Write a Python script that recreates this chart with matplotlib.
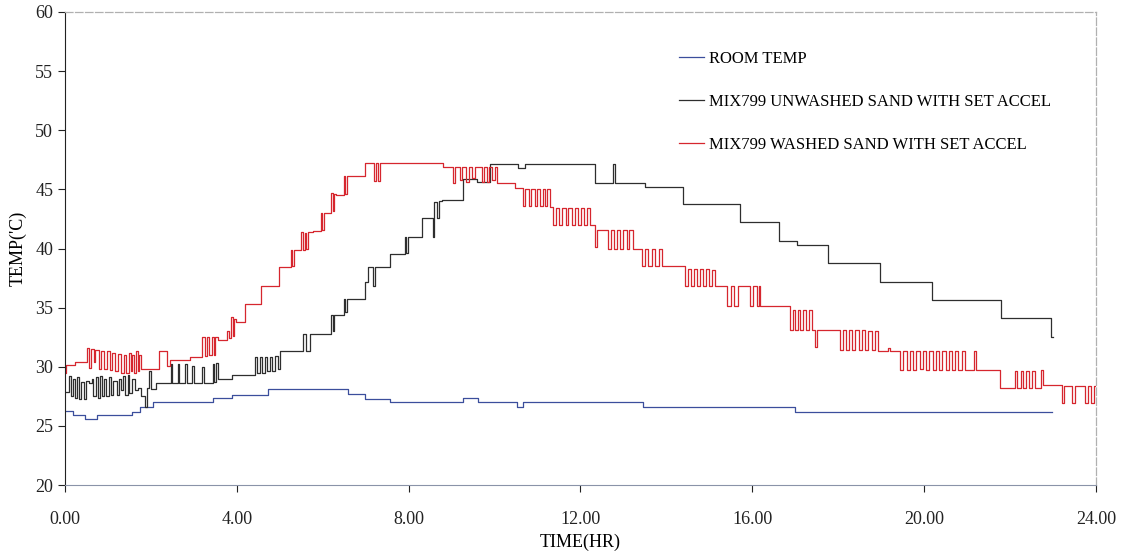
import matplotlib
matplotlib.use("Agg")
import matplotlib.pyplot as plt
from matplotlib.ticker import FormatStrFormatter

plt.rcParams['font.family'] = ['Liberation Serif', 'DejaVu Serif']

# ---- data (time in hours, temperature in C) ----
room_t = [0.00, 0.19, 0.47, 0.74, 1.56, 1.75, 2.05, 3.45, 3.89, 4.73, 6.59, 6.98,
          7.57, 9.26, 9.61, 10.52, 10.66, 13.45, 16.99, 22.97]
room_T = [26.3, 25.9, 25.55, 25.9, 26.2, 26.6, 27.05, 27.4, 27.65, 28.1, 27.7, 27.3,
          27.0, 27.35, 27.0, 26.6, 27.0, 26.6, 26.2, 26.2]

unw_t = [0.00, 0.10, 0.14, 0.18, 0.23, 0.27, 0.32, 0.37, 0.45, 0.50, 0.56, 0.62,
         0.66, 0.72, 0.76, 0.82, 0.86, 0.92, 0.96, 1.02, 1.06, 1.12, 1.20, 1.26,
         1.30, 1.36, 1.40, 1.46, 1.50, 1.56, 1.62, 1.70, 1.78, 1.86, 1.92, 1.96,
         2.00, 2.12, 2.46, 2.50, 2.62, 2.66, 2.80, 2.84, 2.96, 3.00, 3.18, 3.24,
         3.44, 3.48, 3.52, 3.56, 3.89, 4.42, 4.46, 4.55, 4.59, 4.66, 4.70, 4.78,
         4.82, 4.90, 4.95, 5.00, 5.54, 5.60, 5.70, 6.20, 6.23, 6.26, 6.50, 6.53,
         6.56, 6.98, 7.05, 7.18, 7.22, 7.30, 7.57, 7.91, 7.95, 7.98, 8.30, 8.57,
         8.60, 8.65, 8.70, 8.77, 9.26, 9.60, 9.90, 10.55, 10.70, 12.34, 12.76,
         12.80, 13.50, 14.39, 15.71, 16.62, 17.04, 17.76, 18.97, 20.18, 21.79,
         22.95, 23.00]
unw_T = [27.9, 29.2, 27.5, 29.0, 27.4, 29.1, 27.3, 28.7, 27.3, 28.8, 28.6, 29.0,
         27.5, 29.1, 27.4, 29.2, 27.5, 29.0, 27.5, 29.1, 27.6, 28.8, 27.6, 29.0,
         28.0, 29.2, 27.6, 29.3, 27.8, 29.0, 28.0, 28.2, 27.5, 26.6, 28.2, 29.6,
         28.1, 28.6, 30.2, 28.6, 30.2, 28.6, 30.2, 28.6, 30.1, 28.6, 30.0, 28.6,
         30.2, 28.7, 30.3, 28.95, 29.3, 30.8, 29.5, 30.8, 29.5, 30.8, 29.6, 30.8,
         29.6, 30.9, 29.8, 31.3, 32.8, 31.3, 32.8, 34.4, 33.0, 34.4, 35.7, 34.6,
         35.7, 37.2, 38.4, 36.8, 38.4, 38.4, 39.5, 41.0, 39.6, 41.0, 42.55, 41.0,
         43.9, 42.6, 44.0, 44.1, 45.9, 45.6, 47.15, 46.8, 47.15, 45.57, 47.15,
         45.57, 45.23, 43.76, 42.2, 40.66, 40.3, 38.75, 37.2, 35.65, 34.1,
         32.5, 32.5]

was_t = [0.00, 0.03, 0.23, 0.52, 0.57, 0.60, 0.67, 0.71, 0.79, 0.83, 0.90, 0.97,
         1.04, 1.10, 1.16, 1.24, 1.30, 1.37, 1.42, 1.49, 1.53, 1.57, 1.61, 1.65,
         1.69, 1.73, 1.78, 2.18, 2.37, 2.45, 2.92, 3.20, 3.25, 3.30, 3.36, 3.42,
         3.47, 3.50, 3.56, 3.78, 3.82, 3.86, 3.90, 3.94, 3.98, 4.20, 4.57, 4.99,
         5.26, 5.29, 5.33, 5.50, 5.54, 5.58, 5.62, 5.66, 5.77, 5.96, 5.99, 6.02,
         6.20, 6.23, 6.26, 6.30, 6.50, 6.53, 6.56, 6.98, 7.20, 7.25, 7.29, 7.34,
         8.80, 9.03, 9.08, 9.20, 9.25, 9.33, 9.40, 9.48, 9.55, 9.70, 9.75, 9.82,
         9.88, 9.95, 10.00, 10.06, 10.47, 10.66, 10.72, 10.80, 10.86, 10.93,
         10.98, 11.05, 11.12, 11.18, 11.23, 11.29, 11.36, 11.42, 11.50, 11.58,
         11.66, 11.72, 11.80, 11.88, 11.95, 12.02, 12.08, 12.15, 12.22, 12.34,
         12.38, 12.64, 12.70, 12.77, 12.85, 12.92, 13.00, 13.08, 13.14, 13.22,
         13.43, 13.50, 13.58, 13.66, 13.74, 13.82, 13.90, 13.95, 14.43, 14.50,
         14.57, 14.64, 14.71, 14.78, 14.85, 14.92, 15.00, 15.06, 15.13, 15.41,
         15.50, 15.58, 15.66, 15.95, 16.02, 16.10, 16.15, 16.18, 16.88, 16.94,
         17.00, 17.06, 17.12, 17.18, 17.25, 17.32, 17.38, 17.45, 17.50, 18.04,
         18.10, 18.18, 18.25, 18.32, 18.40, 18.48, 18.55, 18.62, 18.70, 18.78,
         18.85, 18.92, 19.15, 19.20, 19.44, 19.50, 19.60, 19.66, 19.75, 19.82,
         19.90, 19.98, 20.05, 20.12, 20.20, 20.28, 20.35, 20.42, 20.50, 20.58,
         20.65, 20.72, 20.80, 20.88, 20.95, 21.15, 21.20, 21.77, 22.11, 22.17,
         22.25, 22.31, 22.38, 22.45, 22.52, 22.57, 22.72, 22.76, 23.20, 23.25,
         23.45, 23.52, 23.75, 23.82, 23.88, 23.95, 24.00]
was_T = [29.5, 30.15, 30.4, 31.6, 29.9, 31.5, 30.4, 31.4, 29.8, 31.3, 29.8, 31.3,
         29.7, 31.2, 29.6, 31.1, 29.5, 31.0, 29.5, 31.2, 29.6, 31.0, 29.5, 31.3,
         29.6, 31.0, 29.8, 31.3, 30.1, 30.6, 30.85, 32.5, 30.9, 32.5, 31.0, 32.5,
         31.0, 32.5, 32.3, 33.0, 32.4, 34.2, 32.6, 34.0, 33.8, 35.3, 36.8, 38.4,
         39.9, 38.5, 39.9, 41.4, 39.9, 41.3, 40.0, 41.4, 41.5, 43.0, 41.6, 43.0,
         44.7, 43.2, 44.6, 44.5, 46.1, 44.6, 46.1, 47.2, 45.7, 47.2, 45.7, 47.2,
         46.9, 45.5, 46.9, 45.8, 46.9, 45.6, 46.9, 46.0, 46.9, 45.6, 46.9, 45.6,
         46.9, 45.8, 46.9, 45.5, 45.1, 43.6, 45.0, 43.6, 45.0, 43.6,
         45.0, 43.6, 45.0, 43.6, 45.0, 43.55, 42.0, 43.4, 42.0, 43.4,
         42.0, 43.4, 42.0, 43.4, 42.0, 43.4, 42.0, 43.4, 42.0, 40.15,
         41.6, 40.0, 41.6, 40.0, 41.6, 40.0, 41.6, 40.0, 41.6, 40.0,
         38.5, 40.0, 38.5, 40.0, 38.5, 40.0, 38.5, 38.5, 36.8, 38.3,
         36.8, 38.3, 36.8, 38.3, 36.8, 38.3, 36.8, 38.2, 36.8, 35.1,
         36.8, 35.1, 36.8, 35.1, 36.8, 35.1, 36.8, 35.1, 33.1, 34.8,
         33.1, 34.8, 33.1, 34.8, 33.1, 34.8, 33.1, 31.7, 33.1, 31.4,
         33.1, 31.4, 33.1, 31.4, 33.1, 31.4, 33.1, 31.4, 33.0, 31.4,
         33.0, 31.3, 31.6, 31.3, 29.7, 31.3, 29.7, 31.3, 29.7, 31.3,
         29.8, 31.3, 29.7, 31.3, 29.7, 31.3, 29.7, 31.3, 29.7, 31.3,
         29.7, 31.3, 29.7, 31.3, 29.7, 31.3, 29.7, 28.2, 29.6, 28.2,
         29.6, 28.2, 29.6, 28.2, 29.6, 28.2, 29.7, 28.45, 26.9, 28.4,
         26.9, 28.4, 26.9, 28.4, 26.9, 28.4, 28.4]

labels = ["ROOM TEMP", "MIX799 UNWASHED SAND WITH SET ACCEL",
          "MIX799 WASHED SAND WITH SET ACCEL"]
colors = ["#3b4e9c", "#2e2e2e", "#d6262e"]
x_ticks = [0, 4, 8, 12, 16, 20, 24]
y_ticks = [20, 25, 30, 35, 40, 45, 50, 55, 60]

fig = plt.figure(figsize=(11.28, 5.55), dpi=100)
ax = fig.add_axes([0.0576, 0.1261, 0.9140, 0.8523])

for (t, T), lab, col in zip([(room_t, room_T), (unw_t, unw_T), (was_t, was_T)],
                            labels, colors):
    ax.plot(t, T, drawstyle='steps-post', color=col, lw=0.9, label=lab)

ax.set_xlim(0, 24)
ax.set_ylim(20, 60)
ax.set_xticks(x_ticks)
ax.set_yticks(y_ticks)
ax.xaxis.set_major_formatter(FormatStrFormatter('%.2f'))
ax.tick_params(axis='both', labelsize=13, direction='out', length=5, width=0.8,
               colors='#222222')
ax.tick_params(axis='x', pad=14)
ax.set_xlabel("TIME(HR)", fontsize=13, labelpad=4)
ax.set_ylabel("TEMP('C)", fontsize=13, labelpad=6)

ax.spines['left'].set_color('#222222')
ax.spines['bottom'].set_color('#8a93a8')
for s in ('top', 'right'):
    ax.spines[s].set_color('#b0b0b0')
    ax.spines[s].set_linestyle((0, (6, 2)))
    ax.spines[s].set_linewidth(0.9)

ax.legend(loc='upper left', bbox_to_anchor=(0.596, 0.918), frameon=False,
          fontsize=12, handlelength=1.5, handletextpad=0.3, labelspacing=1.62,
          borderpad=0, borderaxespad=0)

fig.savefig("out.png", dpi=100)
